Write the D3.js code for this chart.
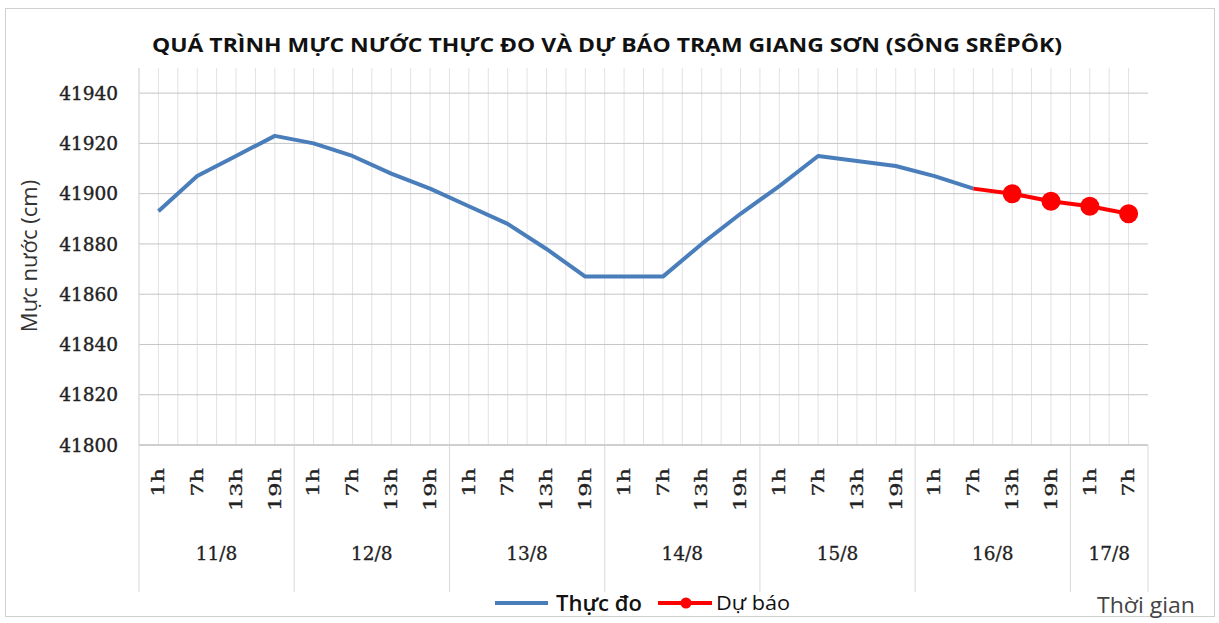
<!DOCTYPE html>
<html>
<head>
<meta charset="utf-8">
<script src="https://cdn.jsdelivr.net/npm/d3@7"></script>
<style>
  body { margin: 0; background: #fff; }
</style>
</head>
<body>
<div id="chart"></div>
<script>
// data
var days = ["11/8", "12/8", "13/8", "14/8", "15/8", "16/8", "17/8"];
var hours = ["1h", "7h", "13h", "19h"];
var hoursPerDay = [4, 4, 4, 4, 4, 4, 2];

var observed = [41893, 41907, 41915, 41923, 41920, 41915, 41908, 41902,
                41895, 41888, 41878, 41867, 41867, 41867, 41880, 41892,
                41903, 41915, 41913, 41911, 41907, 41902];
var forecast = [null, null, null, null, null, null, null, null, null, null, null,
                null, null, null, null, null, null, null, null, null, null,
                41902, 41900, 41897, 41895, 41892];

var yTicks = [41800, 41820, 41840, 41860, 41880, 41900, 41920, 41940];

var width = 1219, height = 623;
var plotL = 139, plotR = 1148, plotT = 68, plotB = 445;

var svg = d3.select('#chart').append('svg')
  .attr('width', width)
  .attr('height', height);

// category list built from days / hours
var cats = [];
days.forEach(function(d, i) {
  hours.slice(0, hoursPerDay[i]).forEach(function(h) {
    cats.push({ key: d + ' ' + h, day: d, hour: h });
  });
});

var x = d3.scaleBand()
  .domain(cats.map(function(c) { return c.key; }))
  .range([plotL, plotR])
  .padding(0);
var bw = x.bandwidth();
function cx(i) { return x(cats[i].key) + bw / 2; }

var y = d3.scaleLinear()
  .domain([41800, 41950])
  .range([plotB, plotT]);

// outer frame
svg.append('rect')
  .attr('x', 5.5).attr('y', 8.5)
  .attr('width', 1209).attr('height', 608)
  .attr('fill', '#fff')
  .attr('stroke', '#d0d0d0');

// vertical grid: category boundaries and centres
var vlines = [];
cats.forEach(function(c, i) {
  vlines.push(x(c.key));
  vlines.push(cx(i));
});
svg.append('g').selectAll('line')
  .data(vlines)
  .enter().append('line')
  .attr('x1', function(d) { return d; })
  .attr('x2', function(d) { return d; })
  .attr('y1', plotT).attr('y2', plotB)
  .attr('stroke', '#e2e2e2')
  .attr('stroke-width', 1);

// horizontal grid
svg.append('g').selectAll('line')
  .data(yTicks)
  .enter().append('line')
  .attr('x1', plotL).attr('x2', plotR)
  .attr('y1', function(d) { return y(d); })
  .attr('y2', function(d) { return y(d); })
  .attr('stroke', '#c4c4c4');

// bottom axis line
svg.append('line')
  .attr('x1', plotL).attr('x2', plotR)
  .attr('y1', plotB).attr('y2', plotB)
  .attr('stroke', '#bdbdbd');

// day separators (down through the label area)
var bounds = [0];
hoursPerDay.reduce(function(acc, n) { bounds.push(acc + n); return acc + n; }, 0);
function bx(b) { return b < cats.length ? x(cats[b].key) : plotR; }
svg.append('g').selectAll('line')
  .data(bounds)
  .enter().append('line')
  .attr('x1', bx)
  .attr('x2', bx)
  .attr('y1', function(d) { return d === 0 ? plotT : plotB; })
  .attr('y2', 592)
  .attr('stroke', '#d9d9d9');

// y tick labels
svg.append('g').selectAll('text')
  .data(yTicks)
  .enter().append('text')
  .attr('x', 118)
  .attr('y', function(d) { return y(d); })
  .attr('dy', '0.36em')
  .attr('text-anchor', 'end')
  .attr('font-family', 'DejaVu Serif')
  .attr('font-size', 18.5)
  .attr('fill', '#222')
  .attr('stroke', '#222')
  .attr('stroke-width', 0.4)
  .text(function(d) { return d; });

// hour labels (rotated, drawn a bit elongated like the original)
svg.append('g').selectAll('text')
  .data(cats)
  .enter().append('text')
  .attr('transform', function(d, i) { return 'translate(' + cx(i) + ',468) rotate(-90) scale(1.4,1)'; })
  .attr('dy', '0.36em')
  .attr('text-anchor', 'end')
  .attr('font-family', 'DejaVu Serif')
  .attr('font-size', 16)
  .attr('fill', '#222')
  .attr('stroke', '#222')
  .attr('stroke-width', 0.3)
  .text(function(d) { return d.hour; });

// day labels
svg.append('g').selectAll('text')
  .data(days)
  .enter().append('text')
  .attr('x', function(d, i) { return (bx(bounds[i]) + bx(bounds[i + 1])) / 2; })
  .attr('y', 560)
  .attr('text-anchor', 'middle')
  .attr('font-family', 'DejaVu Serif')
  .attr('font-size', 18.5)
  .attr('fill', '#222')
  .attr('stroke', '#222')
  .attr('stroke-width', 0.3)
  .text(function(d) { return d; });

// observed / forecast lines
var line = d3.line()
  .defined(function(d) { return d != null; })
  .x(function(d, i) { return cx(i); })
  .y(function(d) { return y(d); });

svg.append('path')
  .datum(observed)
  .attr('d', line)
  .attr('fill', 'none')
  .attr('stroke', '#4a7ebb')
  .attr('stroke-width', 4)
  .attr('stroke-linejoin', 'round');

svg.append('path')
  .datum(forecast)
  .attr('d', line)
  .attr('fill', 'none')
  .attr('stroke', '#ff0000')
  .attr('stroke-width', 4)
  .attr('stroke-linejoin', 'round');

svg.append('g').selectAll('circle')
  .data(forecast.map(function(v, i) { return { v: v, i: i }; })
    .filter(function(d) { return d.v != null && observed[d.i] == null; }))
  .enter().append('circle')
  .attr('cx', function(d) { return cx(d.i); })
  .attr('cy', function(d) { return y(d.v); })
  .attr('r', 9.5)
  .attr('fill', '#ff0000');

// title
svg.append('text')
  .attr('x', 607).attr('y', 52)
  .attr('text-anchor', 'middle')
  .attr('font-family', 'Open Sans')
  .attr('font-weight', 'bold')
  .attr('font-size', 20)
  .attr('textLength', 910)
  .attr('lengthAdjust', 'spacingAndGlyphs')
  .attr('fill', '#111')
  .text('QUÁ TRÌNH MỰC NƯỚC THỰC ĐO VÀ DỰ BÁO TRẠM GIANG SƠN (SÔNG SRÊPÔK)');

// y axis title
svg.append('text')
  .attr('transform', 'translate(37,256) rotate(-90)')
  .attr('text-anchor', 'middle')
  .attr('font-family', 'Open Sans')
  .attr('font-size', 22)
  .attr('fill', '#333')
  .text('Mực nước (cm)');

// x axis title
svg.append('text')
  .attr('x', 1097).attr('y', 613)
  .attr('font-family', 'Open Sans')
  .attr('font-size', 21)
  .attr('textLength', 98)
  .attr('lengthAdjust', 'spacingAndGlyphs')
  .attr('fill', '#444')
  .text('Thời gian');

// legend
var lg = svg.append('g');
lg.append('line')
  .attr('x1', 495).attr('x2', 548).attr('y1', 603).attr('y2', 603)
  .attr('stroke', '#4a7ebb').attr('stroke-width', 4);
lg.append('text')
  .attr('x', 556).attr('y', 611)
  .attr('font-family', 'Open Sans')
  .attr('font-weight', 600)
  .attr('font-size', 21)
  .attr('textLength', 86)
  .attr('lengthAdjust', 'spacingAndGlyphs')
  .attr('fill', '#111')
  .text('Thực đo');
lg.append('line')
  .attr('x1', 658).attr('x2', 712).attr('y1', 603).attr('y2', 603)
  .attr('stroke', '#ff0000').attr('stroke-width', 4);
lg.append('circle')
  .attr('cx', 686).attr('cy', 603).attr('r', 5.5)
  .attr('fill', '#ff0000');
lg.append('text')
  .attr('x', 716).attr('y', 610)
  .attr('font-family', 'Open Sans')
  .attr('font-size', 20)
  .attr('textLength', 74)
  .attr('lengthAdjust', 'spacingAndGlyphs')
  .attr('fill', '#111')
  .text('Dự báo');
</script>
</body>
</html>
